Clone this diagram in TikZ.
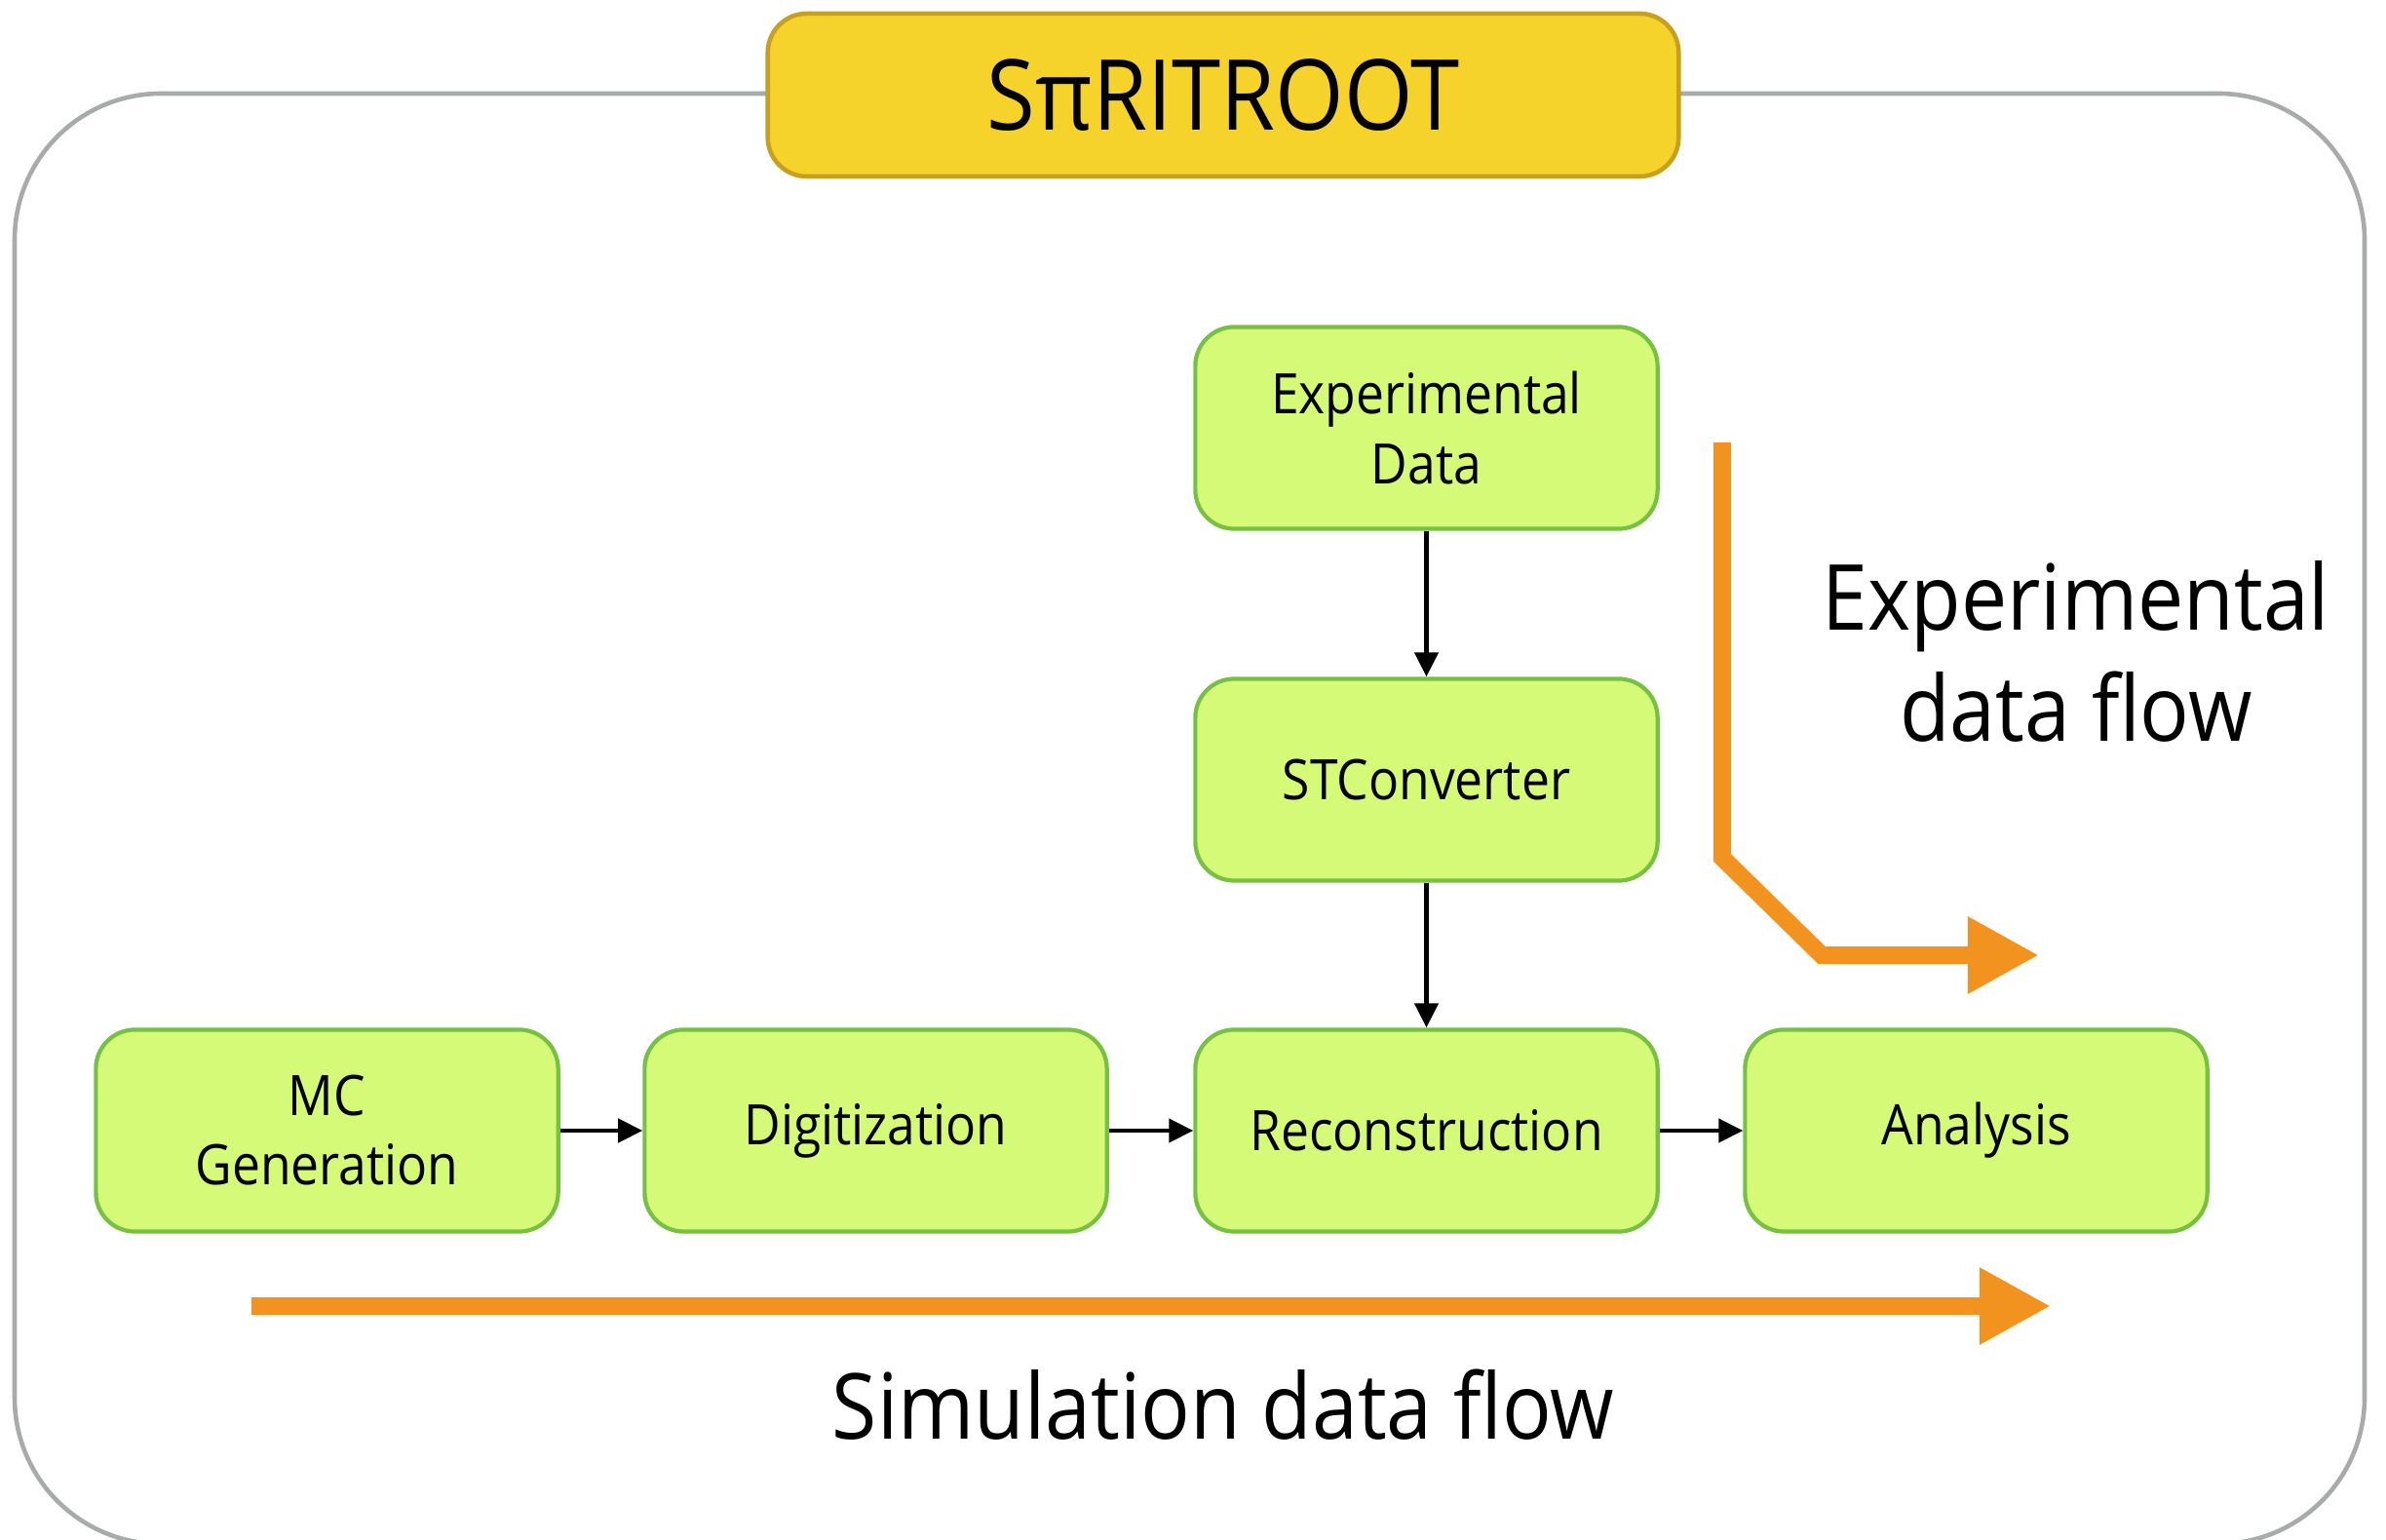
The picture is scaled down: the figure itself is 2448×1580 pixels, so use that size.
\documentclass[tikz,border=0pt]{standalone}
\usepackage{fontspec}
\setmainfont{Open Sans}[FakeStretch=0.9]
\usetikzlibrary{arrows.meta}
\definecolor{boxfill}{HTML}{D5FA78}
\definecolor{boxline}{HTML}{76C142}
\definecolor{titlefill}{HTML}{F5D32B}
\definecolor{titleline}{HTML}{C8A020}
\definecolor{framecol}{HTML}{A8ABAA}
\definecolor{flowcol}{HTML}{F29320}
\begin{document}
\begin{tikzpicture}[x=0.01cm,y=-0.01cm,
  stage/.style={draw=boxline, fill=boxfill, line width=1.2pt, rounded corners=0.4cm,
    minimum width=4.74cm, minimum height=2.07cm, align=center,
    font=\fontsize{16.3}{20.2}\selectfont, inner sep=0pt},
  link/.style={line width=1.25pt, -{Triangle[length=0.25cm,width=0.24cm]}},
  flowarrow/.style={draw=flowcol, line width=5.1pt, -{Triangle[length=0.73cm,width=0.74cm]}, fill=none},
  flowlabel/.style={font=\fontsize{26.6}{32.4}\selectfont, align=center, inner sep=0pt}
]
\useasboundingbox (0,0) rectangle (2448,1580);
\clip (0,0) rectangle (2448,1580);
\draw[framecol, line width=1.3pt, rounded corners=1.5cm] (15,96) rectangle (2426,1584);
\node[draw=titleline, fill=titlefill, line width=1.3pt, rounded corners=0.4cm,
  minimum width=9.34cm, minimum height=1.67cm, font=\fontsize{28.6}{30}\selectfont,
  inner sep=0pt] (title) at (1255,97.5) {SπRITROOT};

\node[stage] (exp) at (1463.5,439) {Experimental\\Data};
\node[stage] (conv) at (1463.5,800) {STConverter};
\node[stage] (mc) at (335.5,1160) {MC\\Generation};
\node[stage] (dig) at (898.5,1160) {Digitization};
\node[stage] (rec) at (1463.5,1160) {Reconstruction};
\node[stage] (ana) at (2027.5,1160) {Analysis};

\draw[link] (exp.south) -- (conv.north);
\draw[link] (conv.south) -- (rec.north);
\draw[link] (mc.east) -- (dig.west);
\draw[link] (dig.east) -- (rec.west);
\draw[link] (rec.east) -- (ana.west);

\coordinate (e1) at (1767,454);
\coordinate (e2) at (1767,880);
\coordinate (e3) at (1869,980);
\coordinate (e4) at (2092,980);
\draw[flowarrow] (e1) -- (e2) -- (e3) -- (e4);

\coordinate (s1) at (258,1340);
\coordinate (s2) at (2104,1340);
\draw[flowarrow] (s1) -- (s2);

\node[flowlabel] (explabel) at (2130,668) {Experimental\\data flow};
\node[flowlabel, anchor=base] (simlabel) at (1255,1477) {Simulation data flow};
\end{tikzpicture}
\end{document}
